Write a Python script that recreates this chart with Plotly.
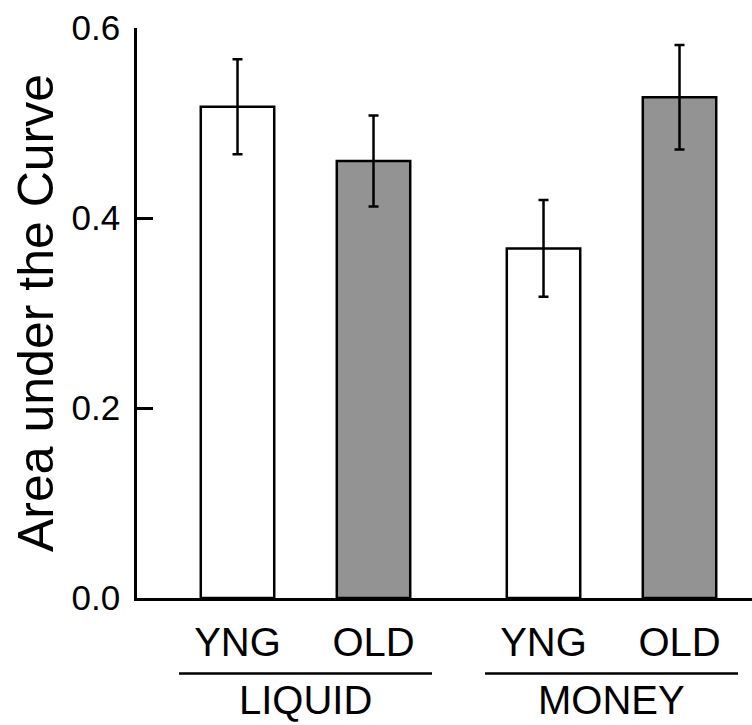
import plotly.graph_objects as go

# Data: area under the curve by age group and reward type
groups = ["LIQUID", "MONEY"]
ages = ["YNG", "OLD"]
auc_yng = [0.517, 0.368]
auc_old = [0.460, 0.527]
err_yng = [0.050, 0.051]
err_old = [0.048, 0.055]
y_ticks = [0.0, 0.2, 0.4, 0.6]

# Slot layout: bars within a group are one unit apart, groups are separated by a wider gap
GROUP_STEP = 2.25
BAR_W = 0.54
x_yng = [1 + g * GROUP_STEP for g in range(len(groups))]
x_old = [1 + g * GROUP_STEP + 1 for g in range(len(groups))]

FONT = "Liberation Sans, Arial, sans-serif"
LINE_W = 2.5
PLOT_W = 615  # plot area width in px (752 - left margin)

fig = go.Figure()
fig.add_trace(go.Bar(
    x=x_yng, y=auc_yng, width=BAR_W,
    marker=dict(color="white", line=dict(color="black", width=LINE_W)),
    error_y=dict(type="data", array=err_yng, color="black", thickness=LINE_W, width=5),
    name="YNG", showlegend=False,
))
fig.add_trace(go.Bar(
    x=x_old, y=auc_old, width=BAR_W,
    marker=dict(color="#939393", line=dict(color="black", width=LINE_W)),
    error_y=dict(type="data", array=err_old, color="black", thickness=LINE_W, width=5),
    name="OLD", showlegend=False,
))

tick_x = sorted(x_yng + x_old)
tick_text = [ages[i % 2] for i in range(len(tick_x))]

# Group labels with underline beneath the age labels
for g, name in enumerate(groups):
    cx = (x_yng[g] + x_old[g]) / 2
    fig.add_shape(type="line", xref="x", yref="paper",
                  x0=cx - 0.93, x1=cx + 0.93, y0=-0.1325, y1=-0.1325,
                  line=dict(color="black", width=LINE_W))
    fig.add_annotation(x=cx, y=-0.179, xref="x", yref="paper", text=name,
                       showarrow=False, font=dict(family=FONT, size=40, color="black"),
                       xanchor="center", yanchor="middle")

# Vertical axis title
fig.add_annotation(x=-101 / PLOT_W, y=0.5, xref="paper", yref="paper",
                   text="Area under the Curve", textangle=-90, showarrow=False,
                   font=dict(family=FONT, size=50, color="black"),
                   xanchor="center", yanchor="middle")

fig.update_layout(
    width=752, height=725,
    margin=dict(l=137, r=0, t=28, b=127),
    paper_bgcolor="white", plot_bgcolor="white",
    barmode="overlay",
    font=dict(family=FONT, color="black"),
    xaxis=dict(
        range=[0.261, 4.783], showgrid=False, zeroline=False,
        showline=True, linecolor="black", linewidth=LINE_W,
        tickvals=tick_x, ticktext=tick_text, ticks="",
        tickfont=dict(family=FONT, size=40, color="black"),
        ticklabelstandoff=7,
    ),
    yaxis=dict(
        range=[0, 0.6], showgrid=False, zeroline=False,
        showline=True, linecolor="black", linewidth=LINE_W,
        tickvals=y_ticks, tickformat=".1f",
        ticks="inside", ticklen=16, tickwidth=LINE_W, tickcolor="black",
        tickfont=dict(family=FONT, size=35, color="black"),
        ticklabelstandoff=7,
    ),
)

fig.write_html("out.html")
